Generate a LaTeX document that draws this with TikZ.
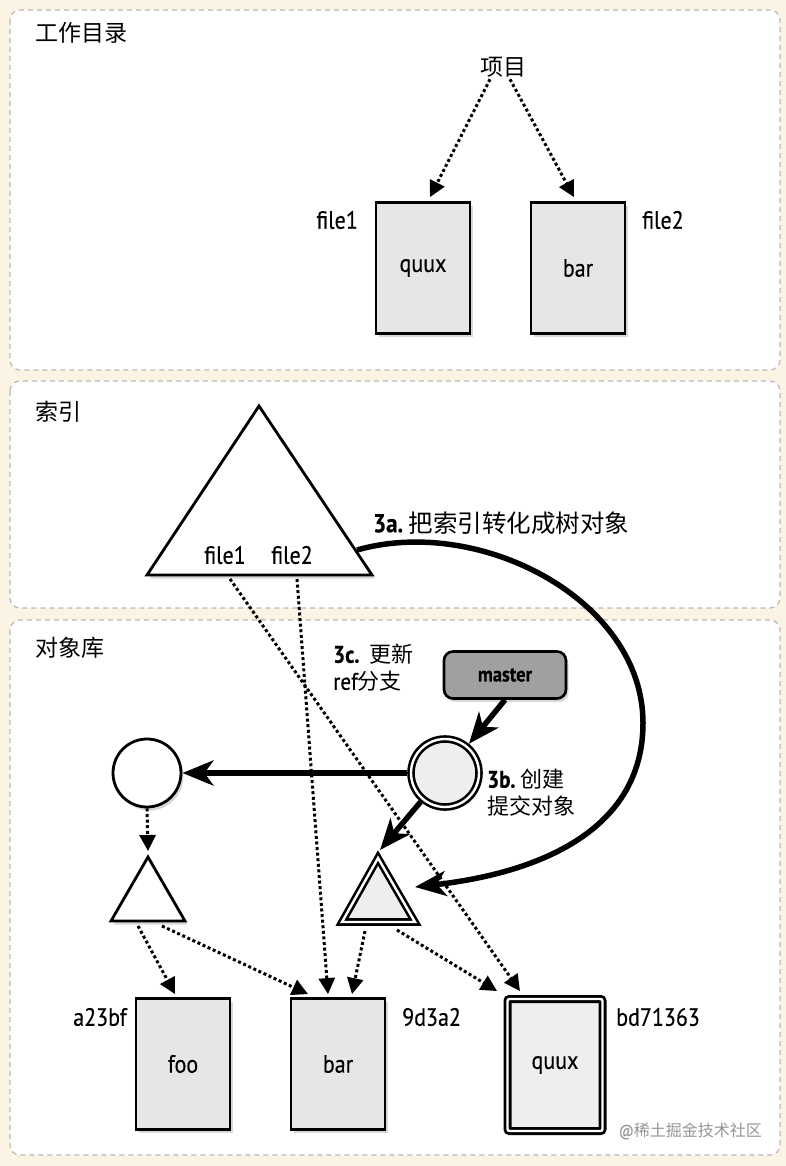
\documentclass[tikz,border=0pt]{standalone}
\usepackage{fontspec}
\setmainfont{PT Sans}[FakeStretch=0.88,FakeBold=0.35]
\newfontfamily\cjk{Noto Sans CJK SC}
\usetikzlibrary{arrows.meta,shadows,calc}
\definecolor{bgc}{RGB}{251,243,227}
\definecolor{panelborder}{RGB}{185,185,185}
\definecolor{boxfill}{RGB}{230,230,230}
\definecolor{lightfill}{RGB}{238,238,238}
\definecolor{masterfill}{RGB}{160,160,160}
\definecolor{wmgray}{RGB}{150,150,150}
\tikzset{
  panel/.style={draw=panelborder, fill=white, line width=1.2pt, dash pattern=on 5pt off 4pt, rounded corners=10pt},
  shad/.style={drop shadow={shadow xshift=2.5pt, shadow yshift=-3.5pt, opacity=0.3}},
  filebox/.style={draw, line width=2.8pt, fill=boxfill, minimum width=94pt, minimum height=131pt, inner sep=0pt, shad, font=\fontsize{25}{27}\selectfont},
  dblbox/.style={draw, line width=2.8pt, double=white, double distance=2.4pt, fill=lightfill, minimum width=95pt, minimum height=132pt, inner sep=0pt, outer sep=4pt, rounded corners=2pt, shad, font=\fontsize{25}{27}\selectfont},
  lbl/.style={inner sep=0pt, font=\fontsize{25}{27}\selectfont},
  cjklbl/.style={inner sep=0pt, font=\cjk\fontsize{23}{26}\selectfont},
  dotarrow/.style={line width=3pt, dash pattern=on 3pt off 2.6pt, -{Triangle[length=16pt,width=16pt]}},
  thickarrow/.style={line width=5.5pt, -{Stealth[length=31pt,width=25pt,inset=9pt]}},
  tri/.style={draw, line width=2.8pt, fill=white, line join=miter, shad},
  dtri/.style={draw, line width=2.6pt, double=white, double distance=2.4pt, fill=lightfill, line join=miter, shad},
}
\begin{document}
\begin{tikzpicture}[x=1pt,y=-1pt]
\fill[bgc] (0,0) rectangle (786,1166);
\useasboundingbox (0,0) rectangle (786,1166);
% panels
\draw[panel] (10,10) rectangle (780,370);
\draw[panel] (10,381) rectangle (780,608);
\draw[panel] (10,620) rectangle (780,1155);
% panel titles
\node[cjklbl, anchor=west] (t1) at (35,33) {工作目录};
\node[cjklbl, anchor=west] (t2) at (35,412) {索引};
\node[cjklbl, anchor=west] (t3) at (35,648) {对象库};

% working directory
\node[cjklbl] (xm) at (503,67) {项目};
\node[filebox] (q1) at (423,268) {quux};
\node[filebox] (b1) at (578,268) {bar};
\node[lbl, anchor=east] (f1w) at (358,220) {file1};
\node[lbl, anchor=west] (f2w) at (642,220) {file2};
\draw[dotarrow] ([xshift=-13pt,yshift=-2pt]xm.south) -- ([xshift=7pt,yshift=4pt]q1.north);
\draw[dotarrow] ([xshift=7pt,yshift=-2pt]xm.south) -- ([xshift=-4pt,yshift=4pt]b1.north);

% index triangle
\coordinate (iA) at (259,406);
\coordinate (iL) at (147,575);
\coordinate (iR) at (372,575);
\filldraw[tri] (iA) -- (iR) -- (iL) -- cycle;
\node[lbl] (f1i) at (225,555) {file1};
\node[lbl] (f2i) at (292,555) {file2};
\coordinate (i1) at (230,579);
\coordinate (i2) at (297,579);
\node[anchor=west, inner sep=0pt] (l3a) at (373,523) {\fontsize{26}{28}\selectfont\bfseries 3a.\ {\cjk\mdseries\fontsize{24.5}{28}\selectfont 把索引转化成树对象}};

% object store
\node[draw, line width=2.6pt, fill=masterfill, rounded corners=9pt, minimum width=122pt, minimum height=47pt, inner sep=0pt, shad, font=\fontsize{21}{23}\selectfont\bfseries] (master) at (505,675) {master};
\node[circle, draw, line width=2.6pt, double=white, double distance=2.4pt, fill=lightfill, minimum size=68pt, inner sep=0pt, outer sep=3.8pt, shad] (commit) at (445,773) {};
\node[circle, draw, line width=2.8pt, fill=white, minimum size=68pt, inner sep=0pt, shad] (c2) at (147,773) {};
\node[anchor=north west, inner sep=0pt, align=left, font=\fontsize{24}{27}\selectfont] (l3c) at (333,644) {\bfseries 3c.\hspace{10pt}\mdseries{\cjk\fontsize{22}{27}\selectfont 更新}\\ref{\cjk\fontsize{22}{27}\selectfont 分支}};
\node[anchor=north west, inner sep=0pt, align=left, font=\fontsize{24}{29}\selectfont] (l3b) at (487,769) {\bfseries 3b.\ \mdseries{\cjk\fontsize{22}{27}\selectfont 创建}\\[-2pt]{\cjk\fontsize{22}{27}\selectfont 提交对象}};

% left triangle
\coordinate (lA) at (148,857);
\coordinate (lL) at (111,921);
\coordinate (lR) at (185,921);
\filldraw[tri] (lA) -- (lR) -- (lL) -- cycle;
% double triangle
\coordinate (dA) at (378,858);
\coordinate (dL) at (342,922);
\coordinate (dR) at (415,922);
\filldraw[dtri] (dA) -- (dR) -- (dL) -- cycle;

% blobs
\node[filebox] (foo) at (183,1064) {foo};
\node[filebox] (b2) at (338,1064) {bar};
\node[dblbox] (q2) at (555,1065) {quux};
\node[lbl, anchor=east] (ha) at (127,1017) {a23bf};
\node[lbl, anchor=west] (hb) at (402,1017) {9d3a2};
\node[lbl, anchor=west] (hc) at (616,1017) {bd71363};

% dotted connectors
\draw[dotarrow] (i1) -- ([xshift=-35pt,yshift=4pt]q2.north);
\draw[dotarrow] (i2) -- ([xshift=-10pt,yshift=3pt]b2.north);
\draw[dotarrow] (c2.south) -- ([yshift=6pt]lA);
\coordinate (l1) at (138,926);
\coordinate (l2) at (162,926);
\draw[dotarrow] (l1) -- ([xshift=-8pt,yshift=3pt]foo.north);
\draw[dotarrow] (l2) -- ([xshift=-30pt,yshift=3pt]b2.north);
\coordinate (d1) at (365,931);
\coordinate (d2) at (397,930);
\draw[dotarrow] (d1) -- ([xshift=14pt,yshift=3pt]b2.north);
\draw[dotarrow] (d2) -- ([xshift=-58pt,yshift=4pt]q2.north);

% thick connectors
\coordinate (s3a) at (357,550);
\coordinate (e3a) at (415,887);
\coordinate (dtip) at (380,850);
\draw[thickarrow] (s3a) .. controls (480,515) and (643,600) .. (643,723) .. controls (643,835) and (530,874) .. (e3a);
\draw[thickarrow] (master.south) -- (commit);
\draw[thickarrow] (commit.west) -- (c2.east);
\draw[thickarrow] (commit) -- (dtip);

% watermark
\node[anchor=east, inner sep=0pt, text=wmgray, font=\fontsize{16}{18}\selectfont] (wm) at (762,1131) {@{\cjk 稀土掘金技术社区}};
\end{tikzpicture}
\end{document}
